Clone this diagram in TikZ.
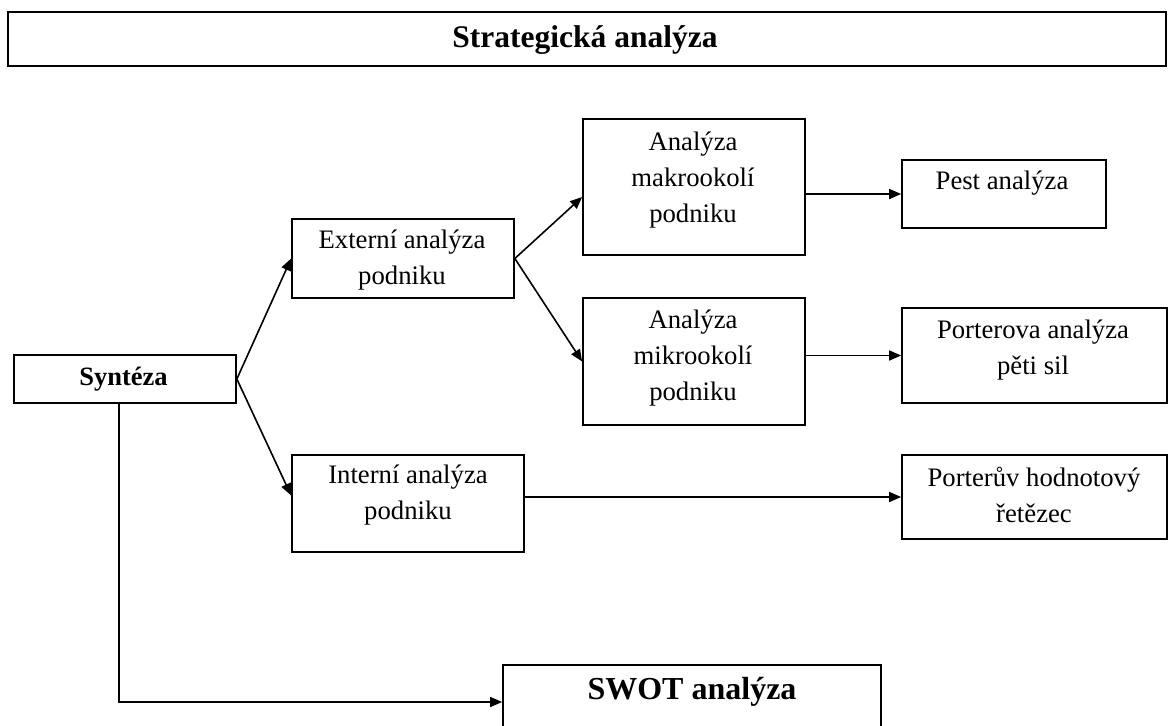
\documentclass[tikz,border=0pt]{standalone}
\usepackage{fontspec}
\setmainfont{Liberation Serif}
\usetikzlibrary{arrows.meta}
\begin{document}
\begin{tikzpicture}[x=1pt, y=-1pt,
  box/.style={draw=black, line width=1.7pt, inner sep=0pt, fill=white},
  txt/.style={inner sep=0pt, align=center, font=\fontsize{26.7}{36}\selectfont},
  boldtxt/.style={inner sep=0pt, align=center, font=\bfseries\fontsize{26.5}{36}\selectfont},
  bigtxt/.style={inner sep=0pt, align=center, font=\bfseries\fontsize{32}{38}\selectfont},
  link/.style={draw=black, line width=1.6pt, -{Triangle[length=12pt,width=10pt]}}]
  \useasboundingbox (0,0) rectangle (1169,725);
  \clip (0,0) rectangle (1169,725);

  % boxes
  \node[box, minimum width=1158pt, minimum height=54pt] (title) at (587,39) {};
  \node[box, minimum width=222pt, minimum height=48pt] (synt) at (125,379) {};
  \node[box, minimum width=222pt, minimum height=79pt] (ext) at (403,258.5) {};
  \node[box, minimum width=232pt, minimum height=97pt] (int) at (408,503.5) {};
  \node[box, minimum width=222pt, minimum height=136pt] (makro) at (694,187) {};
  \node[box, minimum width=222pt, minimum height=127pt] (mikro) at (694,361.5) {};
  \node[box, minimum width=204pt, minimum height=68pt] (pest) at (1004,194) {};
  \node[box, minimum width=265pt, minimum height=95pt] (pa) at (1034.5,355.5) {};
  \node[box, minimum width=265pt, minimum height=84pt] (pv) at (1034.5,497) {};
  \node[box, minimum width=378pt, minimum height=74pt] (swot) at (692,702) {};

  % texts
  \node[bigtxt, font=\bfseries\fontsize{31.5}{38}\selectfont] (title-t) at (585,40) {Strategická analýza};
  \node[boldtxt] (synt-t) at (123.5,379) {Syntéza};
  \node[txt] (ext-t) at (402,260.5) {Externí analýza\\podniku};
  \node[txt] (int-t) at (408,495.5) {Interní analýza\\podniku};
  \node[txt] (makro-t) at (693,180) {Analýza\\makrookolí\\podniku};
  \node[txt] (mikro-t) at (693,358.5) {Analýza\\mikrookolí\\podniku};
  \node[txt] (pest-t) at (1002,183) {Pest analýza};
  \node[txt] (pa-t) at (1033,350) {Porterova analýza\\pěti sil};
  \node[txt] (pv-t) at (1034,495) {Porterův hodnotový\\řetězec};
  \node[bigtxt] (swot-t) at (692,692) {SWOT analýza};

  % connectors
  \draw[link] (synt.east) -- (ext.west);
  \draw[link] (synt.east) -- ([yshift=8pt]int.west);
  \draw[link] (ext.east) -- ([yshift=-10pt]makro.west);
  \draw[link] (ext.east) -- (mikro.west);
  \draw[link] (makro.east |- pest.west) -- (pest.west);
  \draw[link] (mikro.east |- pa.west) -- (pa.west);
  \draw[link] (int.east |- pv.west) -- (pv.west);
  \draw[link] ([xshift=-6pt]synt.south) |- (swot.west);
\end{tikzpicture}
\end{document}
